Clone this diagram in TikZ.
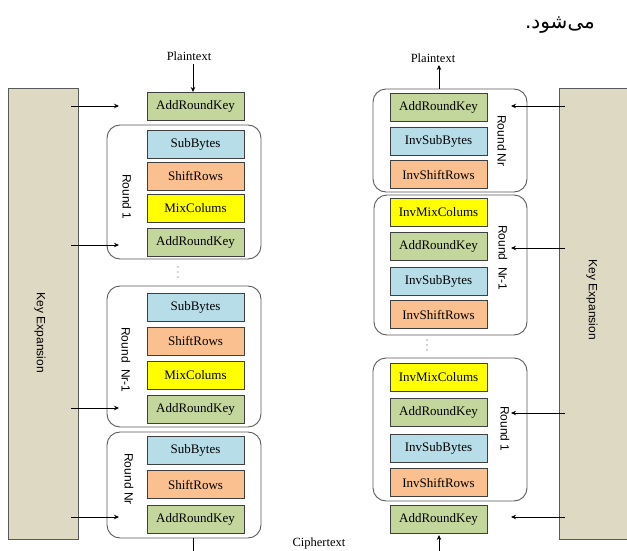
\documentclass[tikz,border=0pt]{standalone}
\usepackage{fontspec}
\setmainfont{Liberation Serif}
\setsansfont{Liberation Sans}
\newfontfamily\arabicfont[Script=Arabic]{DejaVu Sans}
\TeXXeTstate=1
\usetikzlibrary{arrows.meta}
\definecolor{cgreen}{HTML}{C3D69B}
\definecolor{cblue}{HTML}{B7DDE8}
\definecolor{corange}{HTML}{FAC08F}
\definecolor{cyellow}{HTML}{FFFF00}
\definecolor{ctan}{HTML}{DDD9C3}
\definecolor{cborder}{HTML}{3F3F3F}
\definecolor{cround}{HTML}{595959}
\tikzset{
  blk/.style={draw=cborder, line width=0.9pt, minimum width=97pt, minimum height=28pt,
    inner sep=0pt, font=\fontsize{13}{13}\selectfont},
  ark/.style={blk, fill=cgreen},
  sub/.style={blk, fill=cblue},
  shf/.style={blk, fill=corange},
  mix/.style={blk, fill=cyellow},
  roundbox/.style={draw=cround, line width=0.9pt, rounded corners=13pt, inner sep=0pt},
  keybox/.style={draw=cround, line width=0.9pt, fill=ctan, inner sep=0pt},
  rlabel/.style={rotate=-90, font=\sffamily\fontsize{12}{12}\selectfont, inner sep=0pt},
  plain/.style={font=\fontsize{12.5}{12.5}\selectfont, inner sep=1pt},
  dot/.style={circle, fill=gray!70, inner sep=0pt, minimum size=1.6pt},
  arr/.style={line width=0.8pt, -{Stealth[length=5pt,width=4.5pt]}},
  ln/.style={line width=0.8pt}
}
\begin{document}
\begin{tikzpicture}[x=1pt,y=-1pt]
\useasboundingbox (0,0) rectangle (627,551);
% Persian text
\node[font=\arabicfont\fontsize{20}{20}\selectfont, inner sep=0pt] (fa) at (560,25) {\beginR می‌شود.\endR};

% ---------- Left: encryption ----------
\node[keybox, minimum width=70pt, minimum height=451pt] (kL) at (43,313.5) {};
\node[rlabel] (kLt) at (40,333) {Key Expansion};

\node[plain] (ptL) at (189,56) {Plaintext};
\node[ark] (a0) at (195.5,106.5) {AddRoundKey};

\node[roundbox, minimum width=154pt, minimum height=134pt] (r1) at (184,192) {};
\node[sub] (s1) at (195.5,144) {SubBytes};
\node[shf] (h1) at (195.5,176) {ShiftRows};
\node[mix] (m1) at (195.5,208) {MixColums};
\node[ark] (a1) at (195.5,242.5) {AddRoundKey};
\node[rlabel] (r1t) at (127,197) {Round 1};

\node[dot] (dL1) at (178,267) {};
\node[dot] (dL2) at (178,272) {};
\node[dot] (dL3) at (178,277) {};

\node[roundbox, minimum width=154pt, minimum height=141pt] (r2) at (184,356.5) {};
\node[sub] (s2) at (195.5,307.5) {SubBytes};
\node[shf] (h2) at (195.5,341) {ShiftRows};
\node[mix] (m2) at (195.5,375) {MixColums};
\node[ark] (a2) at (195.5,409.5) {AddRoundKey};
\node[rlabel] (r2t) at (126,360) {Round\ \ Nr-1};

\node[roundbox, minimum width=154pt, minimum height=106pt] (r3) at (184,485) {};
\node[sub] (s3) at (195.5,450.5) {SubBytes};
\node[shf] (h3) at (195.5,484.5) {ShiftRows};
\node[ark] (a3) at (195.5,519) {AddRoundKey};
\node[rlabel] (r3t) at (129,479) {Round Nr};

\node[plain] (ctL) at (319,543) {Ciphertext};
\coordinate (endL) at (193,551);

\draw[arr] (193,64) -- (193,92);
\draw[ln] (193,538) -- (endL);
\coordinate (kL1) at (71,106);
\coordinate (kL2) at (71,245);
\coordinate (kL3) at (71,408);
\coordinate (kL4) at (71,517);
\draw[arr] (kL1) -- (119,106);
\draw[arr] (kL2) -- (119,245);
\draw[arr] (kL3) -- (119,408);
\draw[arr] (kL4) -- (119,517);

% ---------- Right: decryption ----------
\node[keybox, minimum width=70pt, minimum height=451pt] (kR) at (594,313.5) {};
\node[rlabel] (kRt) at (592,300) {Key Expansion};

\node[plain] (ptR) at (433,58) {Plaintext};

\node[roundbox, minimum width=154pt, minimum height=103pt] (q1) at (450,140.5) {};
\node[ark] (b1) at (438.5,107.5) {AddRoundKey};
\node[sub] (u1) at (438.5,141.5) {InvSubBytes};
\node[shf] (v1) at (438.5,174.5) {InvShiftRows};
\node[rlabel] (q1t) at (502,141) {Round Nr};

\node[roundbox, minimum width=153pt, minimum height=140pt] (q2) at (450.5,265) {};
\node[mix] (w2) at (438.5,212.5) {InvMixColums};
\node[ark] (b2) at (438.5,246.5) {AddRoundKey};
\node[sub] (u2) at (438.5,281.5) {InvSubBytes};
\node[shf] (v2) at (438.5,314.5) {InvShiftRows};
\node[rlabel] (q2t) at (503,258) {Round\ \ Nr-1};

\node[dot] (dR1) at (427,340) {};
\node[dot] (dR2) at (427,345) {};
\node[dot] (dR3) at (427,350) {};

\node[roundbox, minimum width=154pt, minimum height=143pt] (q3) at (450,429.5) {};
\node[mix] (w3) at (438.5,377.5) {InvMixColums};
\node[ark] (b3) at (438.5,412) {AddRoundKey};
\node[sub] (u3) at (438.5,448.5) {InvSubBytes};
\node[shf] (v3) at (438.5,482.5) {InvShiftRows};
\node[rlabel] (q3t) at (505,429) {Round 1};

\node[ark] (b4) at (438.5,519) {AddRoundKey};
\coordinate (startR) at (439,551);

\draw[arr] (439,89) -- (439,65);
\draw[arr] (startR) -- (439,535);
\coordinate (kR1) at (565,106);
\coordinate (kR2) at (565,248);
\coordinate (kR3) at (565,413);
\coordinate (kR4) at (565,517);
\draw[arr] (kR1) -- (511,106);
\draw[arr] (kR2) -- (511,248);
\draw[arr] (kR3) -- (511,413);
\draw[arr] (kR4) -- (511,517);
\end{tikzpicture}
\end{document}
